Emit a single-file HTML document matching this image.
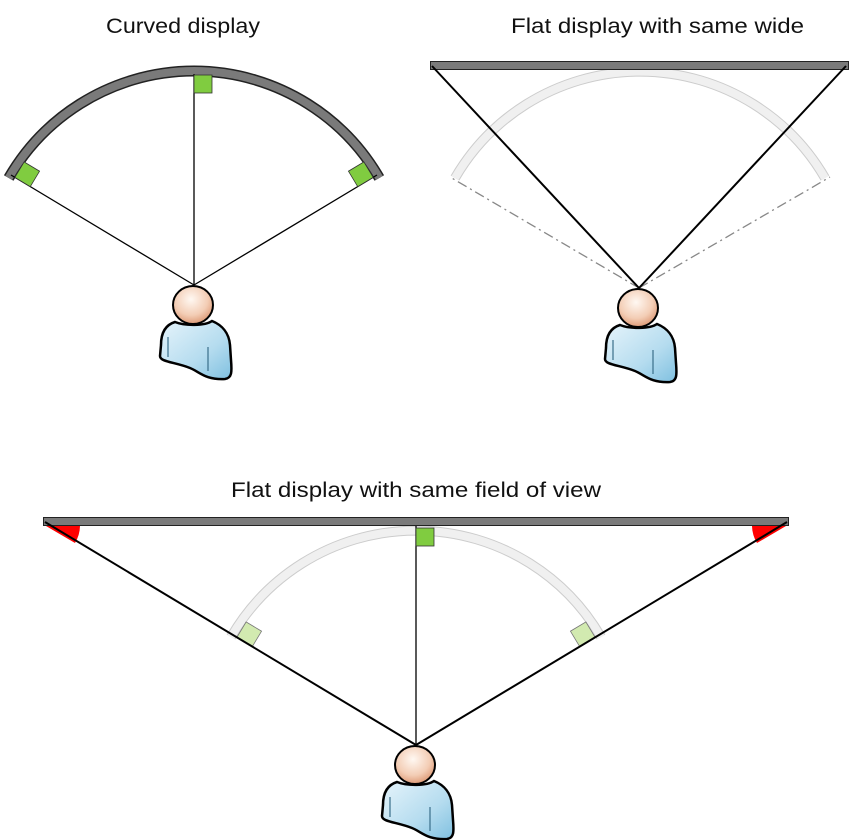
<!DOCTYPE html>
<html><head><meta charset="utf-8"><style>html,body{margin:0;padding:0;background:#fff}svg{display:block}</style></head>
<body>
<svg width="850" height="840" viewBox="0 0 850 840" xmlns="http://www.w3.org/2000/svg">
<defs>
<radialGradient id="hg" cx="0.45" cy="0.35" r="0.7"><stop offset="0" stop-color="#fff8f2"/><stop offset="0.6" stop-color="#f3cdb5"/><stop offset="1" stop-color="#d9906a"/></radialGradient>
<linearGradient id="bg" x1="0" y1="0" x2="1" y2="1"><stop offset="0" stop-color="#e6f4fb"/><stop offset="0.6" stop-color="#b5dcef"/><stop offset="1" stop-color="#7fc0e0"/></linearGradient>
<g id="person">
<path d="M-19,37 C-29,40 -33,48 -33,60 L-34,71 C-34,77 -19,77 -4,83 C6,87 11,95 31,94 C38,93 38,87 37,75 L36,60 C35,48 28,40 18,36 C11,41 -9,41 -19,37 Z" fill="url(#bg)" stroke="#000" stroke-width="2.5"/>
<path d="M-26,52 L-26,72 M14,62 L14,86" stroke="#3a6f8a" stroke-width="1.2" fill="none"/>
<ellipse cx="-1" cy="20" rx="20" ry="19" fill="url(#hg)" stroke="#000" stroke-width="2"/>
</g>
</defs>
<g font-family="Liberation Sans, sans-serif" font-size="21" fill="#111">
<text x="106" y="33" textLength="154" lengthAdjust="spacingAndGlyphs">Curved display</text>
<text x="511" y="33" textLength="293" lengthAdjust="spacingAndGlyphs">Flat display with same wide</text>
<text x="231" y="497" textLength="370" lengthAdjust="spacingAndGlyphs">Flat display with same field of view</text>
</g>

<!-- Top-left curved -->
<path d="M8.7,178 A214,214 0 0 1 379.3,178" fill="none" stroke="#222" stroke-width="11"/>
<path d="M8.7,178 A214,214 0 0 1 379.3,178" fill="none" stroke="#7a7a7a" stroke-width="8"/>
<line x1="194" y1="285" x2="194" y2="74" stroke="#000" stroke-width="1.3"/>
<line x1="194" y1="285" x2="11" y2="175" stroke="#000" stroke-width="1.3"/>
<line x1="194" y1="285" x2="377" y2="175" stroke="#000" stroke-width="1.3"/>
<rect x="194" y="75" width="18" height="18" fill="#80cc40" stroke="#333" stroke-width="0.8"/>
<rect x="194" y="76" width="18" height="18" fill="#80cc40" stroke="#333" stroke-width="0.8" transform="rotate(-59 194 285)"/>
<rect x="176" y="76" width="18" height="18" fill="#80cc40" stroke="#333" stroke-width="0.8" transform="rotate(59 194 285)"/>
<use href="#person" x="194" y="285"/>

<!-- Top-right flat -->
<path d="M455,178 A214,214 0 0 1 825,178" fill="none" stroke="#ccc" stroke-width="10"/>
<path d="M455,178 A214,214 0 0 1 825,178" fill="none" stroke="#f0f0f0" stroke-width="8"/>
<line x1="639" y1="288" x2="450" y2="177" stroke="#888" stroke-width="1.3" stroke-dasharray="10,4,2,4"/>
<line x1="639" y1="288" x2="830" y2="177" stroke="#888" stroke-width="1.3" stroke-dasharray="10,4,2,4"/>
<rect x="430.5" y="61.5" width="418" height="8" fill="#7a7a7a" stroke="#222" stroke-width="1"/>
<line x1="639" y1="288" x2="432" y2="66" stroke="#000" stroke-width="2"/>
<line x1="639" y1="288" x2="846" y2="66" stroke="#000" stroke-width="2"/>
<use href="#person" x="639" y="288"/>

<!-- Bottom flat same FOV -->
<path d="M231,637 A214,214 0 0 1 601,637" fill="none" stroke="#ccc" stroke-width="10"/>
<path d="M231,637 A214,214 0 0 1 601,637" fill="none" stroke="#f0f0f0" stroke-width="8"/>
<rect x="416" y="536" width="18" height="18" fill="#d2eab0" stroke="#777" stroke-width="0.8" transform="rotate(-59 416 745)"/>
<rect x="398" y="536" width="18" height="18" fill="#d2eab0" stroke="#777" stroke-width="0.8" transform="rotate(59 416 745)"/>
<rect x="43.5" y="517.5" width="745" height="8" fill="#7a7a7a" stroke="#222" stroke-width="1"/>
<path d="M46,526 L80,526 A34,34 0 0 1 75,543 Z" fill="#f00"/>
<path d="M786,526 L752,526 A34,34 0 0 0 757,543 Z" fill="#f00"/>
<line x1="416" y1="745" x2="45" y2="522" stroke="#000" stroke-width="2"/>
<line x1="416" y1="745" x2="787" y2="522" stroke="#000" stroke-width="2"/>
<line x1="416" y1="745" x2="416" y2="526" stroke="#000" stroke-width="1.3"/>
<rect x="416" y="528" width="18" height="18" fill="#80cc40" stroke="#333" stroke-width="0.8"/>
<use href="#person" x="416" y="745"/>
</svg>
</body></html>
